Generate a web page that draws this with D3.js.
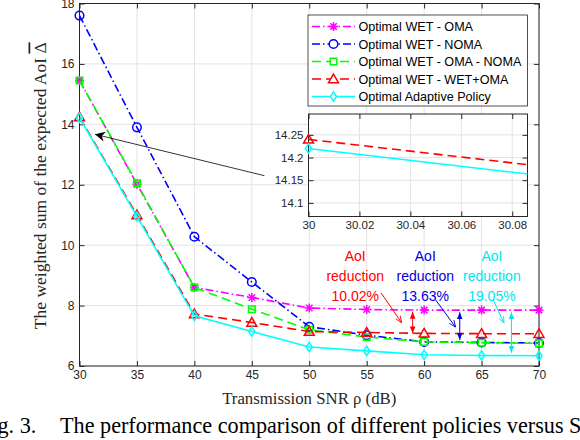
<!DOCTYPE html>
<html>
<head>
<meta charset="utf-8">
<script src="https://cdn.jsdelivr.net/npm/d3@7"></script>
<style>
  body { margin: 0; background: #fff; }
  svg { display: block; }
</style>
</head>
<body>
<div id="chart"></div>
<script>
// ---- data ----
const snr = [30, 35, 40, 45, 50, 55, 60, 65, 70]
const wetOma = [15.45, 12.02, 8.6, 8.27, 7.92, 7.87, 7.85, 7.85, 7.85]
const wetNoma = [17.6, 13.9, 10.28, 8.78, 7.3, 7.02, 6.8, 6.78, 6.76]
const wetOmaNoma = [15.45, 12.05, 8.6, 7.88, 7.2, 6.96, 6.8, 6.77, 6.75]
const wetPlusOma = [14.24, 11.0, 7.72, 7.44, 7.14, 7.11, 7.08, 7.07, 7.07]
const adaptive = [14.22, 10.95, 7.66, 7.14, 6.63, 6.5, 6.37, 6.35, 6.34]

const seriesNames = ['Optimal WET - OMA', 'Optimal WET - NOMA', 'Optimal WET - OMA - NOMA',
  'Optimal WET - WET+OMA', 'Optimal Adaptive Policy']
const seriesValues = [wetOma, wetNoma, wetOmaNoma, wetPlusOma, adaptive]

const xTicks = [30, 35, 40, 45, 50, 55, 60, 65, 70]
const yTicks = [6, 8, 10, 12, 14, 16, 18]
const insetXTicks = [30, 30.02, 30.04, 30.06, 30.08]
const insetYTicks = [14.1, 14.15, 14.2, 14.25]

// annotation texts and arrows (in data units)
const reductionLabels = ['10.02%', '13.63%', '19.05%']
const reductionTextX = [54.0, 60.1, 65.9]
const reductionArrowX = [59.0, 63.1, 67.6]
const reductionFrom = [7.8, 7.78, 7.78]
const reductionTo = [7.08, 6.86, 6.44]
const pointerStart = [[56.25, 8.42], [61.0, 8.19], [66.02, 8.19]]
const pointerEnd = [[58.05, 7.43], [62.75, 7.28], [66.95, 7.42]]
const zoomArrow = [[46.1, 12.3], [31.35, 13.67]]

// ---- styles ----
const colors = ['#ff00ff', '#0000ff', '#00ff00', '#ff0000', '#00ffff']
const dashes = ['8,3,1.5,3', '8,3,1.5,3', '9,5', '9,5', null]
const markers = ['asterisk', 'circle', 'square', 'triangle', 'diamond']
const noteColors = ['#ff0000', '#0000dd', '#00e5ee']

const W = 580, H = 440
const margin = { left: 79.5, right: 41, top: 3.5, bottom: 74 }
const sans = 'Liberation Sans, Arial, sans-serif'
const serif = 'Liberation Serif, Times New Roman, serif'
const axisColor = '#262626'
const gridColor = '#e3e3e3'

const svg = d3.select('#chart').append('svg')
  .attr('width', W).attr('height', H)

const x = d3.scaleLinear().domain([30, 70]).range([margin.left, W - margin.right])
const y = d3.scaleLinear().domain([6, 18]).range([H - margin.bottom, margin.top])

function markerPath(type, s) {
  if (type === 'circle') return d3.symbol(d3.symbolCircle, Math.PI * s * s)()
  if (type === 'square') {
    return `M${-s},${-s}H${s}V${s}H${-s}Z`
  }
  if (type === 'triangle') {
    const h = s * 1.15
    return `M0,${-h}L${h},${h * 0.75}L${-h},${h * 0.75}Z`
  }
  if (type === 'diamond') {
    return `M0,${-s * 1.3}L${s * 0.85},0L0,${s * 1.3}L${-s * 0.85},0Z`
  }
  // asterisk: + and x together
  const d = s * 0.72
  return `M${-s},0H${s}M0,${-s}V${s}M${-d},${-d}L${d},${d}M${-d},${d}L${d},${-d}`
}
const markerSize = [4.5, 4.3, 3.3, 4.3, 3.6]

function drawAxes(g, xs, ys, xt, yt, fmtX, fmtY, size) {
  const [x0, x1] = xs.range()
  const [y0, y1] = ys.range()
  // grid
  g.append('g').selectAll('line').data(xt).join('line')
    .attr('x1', d => xs(d)).attr('x2', d => xs(d))
    .attr('y1', y0).attr('y2', y1)
    .attr('stroke', gridColor).attr('stroke-width', 1)
  g.append('g').selectAll('line').data(yt).join('line')
    .attr('x1', x0).attr('x2', x1)
    .attr('y1', d => ys(d)).attr('y2', d => ys(d))
    .attr('stroke', gridColor).attr('stroke-width', 1)

  const style = a => {
    a.select('.domain').remove()
    a.selectAll('line').attr('stroke', axisColor)
    a.selectAll('text').attr('fill', axisColor).attr('font-family', sans).attr('font-size', size)
  }
  g.append('g').attr('transform', `translate(0,${y0})`)
    .call(d3.axisBottom(xs).tickValues(xt).tickSize(-5).tickPadding(4).tickFormat(fmtX)).call(style)
  g.append('g').attr('transform', `translate(0,${y1})`)
    .call(d3.axisTop(xs).tickValues(xt).tickSize(-5).tickFormat('')).call(style)
  g.append('g').attr('transform', `translate(${x0},0)`)
    .call(d3.axisLeft(ys).tickValues(yt).tickSize(-5).tickPadding(5).tickFormat(fmtY)).call(style)
  g.append('g').attr('transform', `translate(${x1},0)`)
    .call(d3.axisRight(ys).tickValues(yt).tickSize(-5).tickFormat('')).call(style)

  g.append('rect')
    .attr('x', x0).attr('y', y1)
    .attr('width', x1 - x0).attr('height', y0 - y1)
    .attr('fill', 'none').attr('stroke', axisColor).attr('stroke-width', 1)
}

function drawSeries(g, xs, ys, clipId, markerFilter) {
  const line = d3.line().x(d => xs(d[0])).y(d => ys(d[1]))
  seriesValues.forEach((vals, i) => {
    const pts = snr.map((s, j) => [s, vals[j]])
    g.append('path')
      .attr('d', line(pts))
      .attr('clip-path', `url(#${clipId})`)
      .attr('fill', 'none')
      .attr('stroke', colors[i])
      .attr('stroke-width', 1.6)
      .attr('stroke-dasharray', dashes[i])
    g.append('g').selectAll('path')
      .data(pts.filter(markerFilter))
      .join('path')
      .attr('transform', d => `translate(${xs(d[0])},${ys(d[1])})`)
      .attr('d', markerPath(markers[i], markerSize[i]))
      .attr('fill', 'none')
      .attr('stroke', colors[i])
      .attr('stroke-width', 1.5)
  })
}

const defs = svg.append('defs')
defs.append('clipPath').attr('id', 'clipMain').append('rect')
  .attr('x', x.range()[0]).attr('y', y.range()[1])
  .attr('width', x.range()[1] - x.range()[0]).attr('height', y.range()[0] - y.range()[1])

// arrow heads
defs.append('marker').attr('id', 'headBlack')
  .attr('viewBox', '0 -5 10 10').attr('refX', 10).attr('refY', 0)
  .attr('markerWidth', 14).attr('markerHeight', 10).attr('markerUnits', 'userSpaceOnUse')
  .attr('orient', 'auto')
  .append('path').attr('d', 'M0,-5L10,0L0,5L3,0Z').attr('fill', '#000')
noteColors.forEach((c, i) => {
  defs.append('marker').attr('id', `open${i}`)
    .attr('viewBox', '0 -5 10 10').attr('refX', 10).attr('refY', 0)
    .attr('markerWidth', 7).attr('markerHeight', 7).attr('markerUnits', 'userSpaceOnUse')
    .attr('orient', 'auto')
    .append('path').attr('d', 'M0,-4L10,0L0,4').attr('fill', 'none').attr('stroke', c).attr('stroke-width', 1.2)
  defs.append('marker').attr('id', `fill${i}`)
    .attr('viewBox', '0 -5 10 10').attr('refX', 10).attr('refY', 0)
    .attr('markerWidth', 7).attr('markerHeight', 7).attr('markerUnits', 'userSpaceOnUse')
    .attr('orient', 'auto-start-reverse')
    .append('path').attr('d', 'M0,-4L10,0L0,4Z').attr('fill', c)
})

// ---- main axes ----
const main = svg.append('g')
drawAxes(main, x, y, xTicks, yTicks, d3.format('d'), d3.format('d'), 12)
drawSeries(main, x, y, 'clipMain', () => true)

// axis titles
svg.append('text')
  .attr('x', (x.range()[0] + x.range()[1]) / 2).attr('y', 404)
  .attr('text-anchor', 'middle')
  .attr('font-family', serif).attr('font-size', 16.8).attr('fill', axisColor)
  .text('Transmission SNR ρ (dB)')

const yl = svg.append('text')
  .attr('transform', `translate(45.5,${(y.range()[0] + y.range()[1]) / 2 + 1}) rotate(-90)`)
  .attr('text-anchor', 'middle')
  .attr('font-family', serif).attr('font-size', 17.5).attr('fill', axisColor)
yl.append('tspan').text('The weighted sum of the expected AoI ')
yl.append('tspan').attr('text-decoration', 'overline').text('Δ')

// ---- annotations ----
noteColors.forEach((c, i) => {
  const t = svg.append('text')
    .attr('text-anchor', 'middle')
    .attr('font-family', sans).attr('font-size', 14).attr('fill', c)
  ;['AoI', 'reduction', reductionLabels[i]].forEach((s, k) => {
    t.append('tspan').attr('x', x(reductionTextX[i])).attr('y', 261 + k * 20).text(s)
  })
  svg.append('line')
    .attr('x1', x(pointerStart[i][0])).attr('y1', y(pointerStart[i][1]))
    .attr('x2', x(pointerEnd[i][0])).attr('y2', y(pointerEnd[i][1]))
    .attr('stroke', c).attr('stroke-width', 1)
    .attr('marker-end', `url(#open${i})`)
  svg.append('line')
    .attr('x1', x(reductionArrowX[i])).attr('y1', y(reductionFrom[i]))
    .attr('x2', x(reductionArrowX[i])).attr('y2', y(reductionTo[i]))
    .attr('stroke', c).attr('stroke-width', 1)
    .attr('marker-start', `url(#fill${i})`)
    .attr('marker-end', `url(#fill${i})`)
})

svg.append('line')
  .attr('x1', x(zoomArrow[0][0])).attr('y1', y(zoomArrow[0][1]))
  .attr('x2', x(zoomArrow[1][0])).attr('y2', y(zoomArrow[1][1]))
  .attr('stroke', '#000').attr('stroke-width', 0.8)
  .attr('marker-end', 'url(#headBlack)')

// ---- inset ----
const xi = d3.scaleLinear().domain([30, 30.086]).range([308.5, 527.5])
const yi = d3.scaleLinear().domain([14.07, 14.296]).range([216.5, 114])
defs.append('clipPath').attr('id', 'clipInset').append('rect')
  .attr('x', 308.5).attr('y', 114).attr('width', 219).attr('height', 102.5)
const inset = svg.append('g')
inset.append('rect').attr('x', 308.5).attr('y', 114).attr('width', 219).attr('height', 102.5)
  .attr('fill', '#fff')
drawAxes(inset, xi, yi, insetXTicks, insetYTicks, d => d3.format('.2~f')(d), d => d3.format('.2~f')(d), 11.5)
drawSeries(inset, xi, yi, 'clipInset', d => d[0] <= 30.086 && d[1] >= 14.07 && d[1] <= 14.296)

// ---- legend ----
const lg = svg.append('g')
lg.append('rect').attr('x', 308).attr('y', 15).attr('width', 219.5).attr('height', 91)
  .attr('fill', '#fff').attr('stroke', axisColor).attr('stroke-width', 0.8)
seriesNames.forEach((name, i) => {
  const cy = 26.5 + i * 17.5
  lg.append('line').attr('x1', 312).attr('x2', 355).attr('y1', cy).attr('y2', cy)
    .attr('stroke', colors[i]).attr('stroke-width', 1.6).attr('stroke-dasharray', dashes[i])
  lg.append('path').attr('transform', `translate(333.5,${cy})`)
    .attr('d', markerPath(markers[i], markerSize[i]))
    .attr('fill', '#fff').attr('stroke', colors[i]).attr('stroke-width', 1.5)
  lg.append('text').attr('x', 358.5).attr('y', cy + 4.5)
    .attr('font-family', sans).attr('font-size', 12.6).attr('fill', '#000')
    .text(name)
})

// ---- caption (cropped at the edges like the scan) ----
const cap = svg.append('text')
  .attr('y', 433)
  .attr('font-family', serif).attr('font-size', 22.2).attr('fill', '#000')
cap.append('tspan').attr('x', -21).text('Fig. 3.')
cap.append('tspan').attr('x', 60).text('The performance comparison of different policies versus SNR.')
</script>
</body>
</html>
